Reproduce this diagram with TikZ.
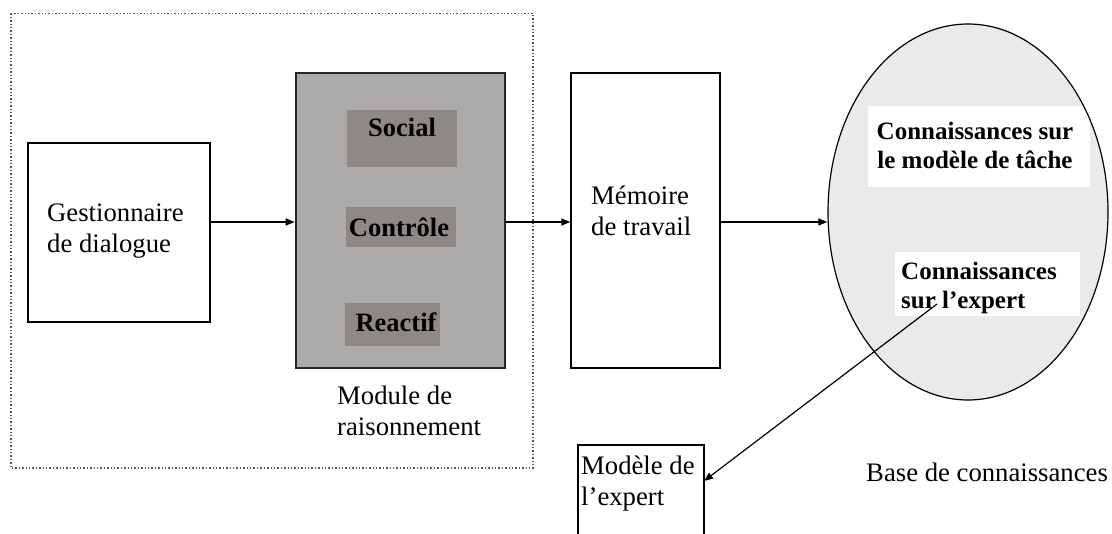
\documentclass[tikz,border=0pt]{standalone}
\usepackage{fontspec}
\setmainfont{Liberation Serif}
\usetikzlibrary{arrows.meta,shapes.geometric}
\definecolor{modgray}{RGB}{172,170,168}
\definecolor{innergray}{RGB}{142,136,134}
\definecolor{ellgray}{RGB}{234,234,234}
\tikzset{
  box/.style={draw=black, line width=1.3pt, fill=white, rectangle, inner sep=0pt},
  txt/.style={inner sep=0pt, font=\fontsize{26.7}{31}\selectfont, align=left},
  btxt/.style={inner sep=0pt, font=\fontsize{26.5}{31}\selectfont\bfseries},
  etxt/.style={inner sep=0pt, font=\fontsize{25}{29}\selectfont\bfseries},
  innerbox/.style={fill=innergray, draw=none, rectangle, inner sep=0pt},
  arr/.style={line width=1.2pt, -{Triangle[length=9pt,width=7pt]}},
  frame/.style={draw=black!65, line width=1.3pt, dash pattern=on 1.4pt off 2pt}
}
\begin{document}
\begin{tikzpicture}[x=1pt,y=-1pt]
\useasboundingbox (0,0) rectangle (1112,534);
% dotted frame
\draw[frame] (11,13.5) rectangle (533,468);
% knowledge base ellipse
\node[ellipse, draw=black, line width=1.2pt, fill=ellgray, minimum width=280pt, minimum height=376pt, inner sep=0pt] (kb) at (968,212) {};
\begin{scope}
  \clip (968,212) ellipse [x radius=139pt, y radius=187pt];
  \fill[white] (868,106) rectangle (1090,187);
  \fill[white] (895,252) rectangle (1080,316);
\end{scope}
\node[etxt, align=center] (ck1) at (975,145) {Connaissances sur\\le modèle de tâche};
\node[etxt, align=left, anchor=west] (ck2) at (901,288) {Connaissances\\sur l’expert};
\node[txt, anchor=west] (base) at (866,472) {Base de connaissances};
% boxes
\node[box, minimum width=182pt, minimum height=179pt] (gest) at (119,232.5) {};
\node[txt, anchor=west] (gestT) at (47,231) {Gestionnaire\\de dialogue};
\node[rectangle, draw=black!85, line width=2.6pt, fill=modgray, minimum width=209pt, minimum height=295pt, inner sep=0pt] (mod) at (400.5,220.5) {};
\node[innerbox, minimum width=110pt, minimum height=57pt] (socB) at (402,138.5) {};
\node[btxt] (soc) at (402,127) {Social};
\node[innerbox, minimum width=110pt, minimum height=40pt] (ctrB) at (401,227) {};
\node[btxt] (ctr) at (399,227) {Contrôle};
\node[innerbox, minimum width=95pt, minimum height=43pt] (reaB) at (392.5,324.5) {};
\node[btxt] (rea) at (396,322) {Reactif};
\node[txt, anchor=west] (modT) at (337,411) {Module de\\raisonnement};
\node[box, minimum width=149pt, minimum height=295pt] (mem) at (645.5,220.5) {};
\node[txt, anchor=west] (memT) at (591,211) {Mémoire\\de travail};
\node[box, minimum width=126pt, minimum height=95pt] (modele) at (641,492.5) {};
\node[txt, anchor=west] (modeleT) at (581,484) {Modèle de\\l’expert};
% connectors
\coordinate (ay) at (0,222);
\draw[arr] (gest.east |- ay) -- (mod.west |- ay);
\draw[arr] (mod.east |- ay) -- (mem.west |- ay);
\draw[arr] (mem.east |- ay) -- (kb.west |- ay);
\coordinate (src) at (937,304);
\coordinate (dst) at (704,481);
\draw[arr] (src) -- (dst);
\end{tikzpicture}
\end{document}
